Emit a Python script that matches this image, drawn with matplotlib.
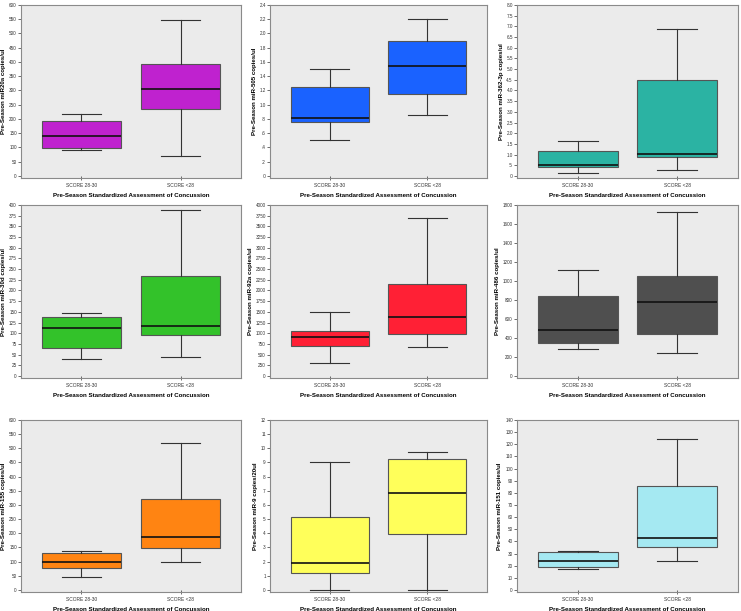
import numpy as np
import matplotlib
matplotlib.use('Agg')
import matplotlib.pyplot as plt

plt.rcParams['font.family'] = ['Liberation Sans', 'DejaVu Sans']

# group labels on every panel
groups = ['SCORE 28-30', 'SCORE <28']
xlab = 'Pre-Season Standardized Assessment of Concussion'

# y axis labels for the 9 panels
ylabels = ['Pre-Season miR20a copies/ul', 'Pre-Season miR-505 copies/ul',
           'Pre-Season miR-362-3p copies/ul', 'Pre-Season miR-30d copies/ul',
           'Pre-Season miR-92a copies/ul', 'Pre-Season miR-486 copies/ul',
           'Pre-Season miR-155 copies/ul', 'Pre-Season miR-9 copies/20ul',
           'Pre-Season miR-151 copies/ul']

# box stats per panel: [low whisker, q1, median, q3, high whisker] for each group
mir20a = [[90, 99, 141, 194, 219], [69, 236, 306, 393, 548]]
mir505 = [[0.51, 0.76, 0.82, 1.25, 1.50], [0.86, 1.15, 1.55, 1.90, 2.20]]
mir362 = [[0.14, 0.40, 0.50, 1.16, 1.65], [0.30, 0.88, 1.04, 4.50, 6.90]]
mir30d = [[40, 65, 112, 137, 148], [45, 96, 117, 235, 389]]
mir92a = [[302, 700, 914, 1058, 1495], [684, 978, 1376, 2163, 3690]]
mir486 = [[282, 343, 479, 839, 1111], [239, 443, 779, 1050, 1725]]
mir155 = [[45, 79, 99, 129, 136], [100, 147, 186, 321, 518]]
mir9 = [[0.0, 1.21, 1.92, 5.18, 9.04], [0.0, 3.95, 6.82, 9.23, 9.75]]
mir151 = [[16.9, 19.1, 23.5, 31.4, 32.5], [24.0, 35.5, 43.1, 85.7, 124.2]]

data = [mir20a, mir505, mir362, mir30d, mir92a, mir486, mir155, mir9, mir151]

# y axis maximum and tick step
ymax = [600, 2.4, 8.0, 400, 4000, 1800, 600, 12, 140]
ystep = [50, 0.2, 0.5, 25, 250, 200, 50, 1, 10]

colors = ['#BF22CF', '#1A62FF', '#2BB3A3', '#33C22A', '#FF2035',
          '#4F4F4F', '#FF8412', '#FFFF5A', '#A5E9F2']

W, H = 741, 611
fig = plt.figure(figsize=(W / 100, H / 100), dpi=100)

cols = [(21, 241), (270, 487), (517, 738)]
rows = [(5, 178), (205, 378), (420, 592)]


def spss_fmt(v, step):
    if step >= 1:
        return '%d' % round(v)
    s = '%.1f' % v
    if s.startswith('0.'):
        s = s[1:]
    return s


for i in range(9):
    r, c = divmod(i, 3)
    l, rr = cols[c]
    t, b = rows[r]
    ax = fig.add_axes([l / W, 1 - b / H, (rr - l) / W, (b - t) / H])
    ax.set_facecolor('#EBEBEB')

    stats = []
    for g, vals in zip(groups, data[i]):
        lo, q1, med, q3, hi = vals
        stats.append(dict(label=g, whislo=lo, q1=q1, med=med, q3=q3, whishi=hi, fliers=[]))

    ax.bxp(stats, positions=[1, 2], widths=0.8, patch_artist=True,
           boxprops=dict(facecolor=colors[i], edgecolor='#555555', linewidth=0.8),
           medianprops=dict(color='#111111', linewidth=1.2),
           whiskerprops=dict(color='#333333', linewidth=0.8),
           capprops=dict(color='#333333', linewidth=0.8))

    ax.set_xlim(0.39, 2.61)
    ax.set_ylim(-0.012 * ymax[i], ymax[i])
    ticks = np.arange(0, ymax[i] + ystep[i] / 2, ystep[i])
    ax.set_yticks(ticks)
    ax.set_yticklabels([spss_fmt(v, ystep[i]) for v in ticks])
    ax.tick_params(axis='y', labelsize=3.3, length=2, width=0.5, pad=1, colors='#333333')
    ax.tick_params(axis='x', labelsize=3.5, length=3, width=0.5, pad=2,
                   direction='inout', colors='#333333')

    for sp in ax.spines.values():
        sp.set_color('#8A8A8A')
        sp.set_linewidth(0.8)

    ax.set_xlabel(xlab, fontsize=4.4, fontweight='bold', labelpad=4)
    ax.set_ylabel(ylabels[i], fontsize=4.4, fontweight='bold', labelpad=2)

fig.savefig('out.png', dpi=100)
